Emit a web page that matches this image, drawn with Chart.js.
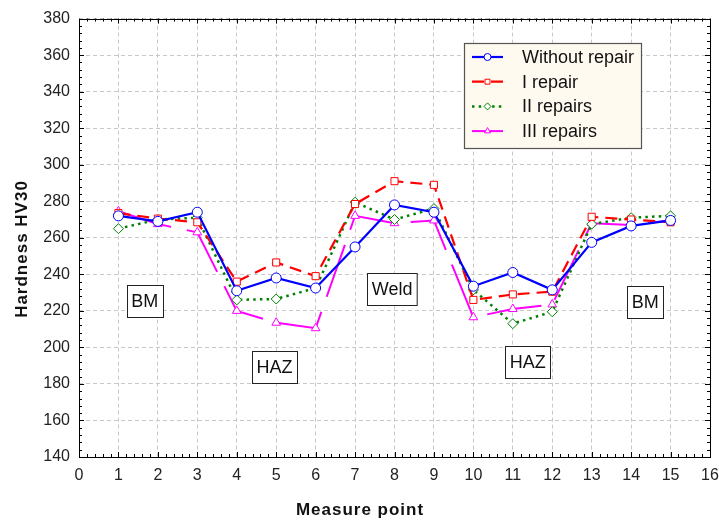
<!DOCTYPE html>
<html lang="en">
<head>
  <meta charset="UTF-8" />
  <title>Hardness HV30</title>
  <script src="https://cdn.jsdelivr.net/npm/chart.js"></script>
  <style>
    body { margin: 0; background: #ffffff; }
    canvas { display: block; }
  </style>
</head>
<body>
  <canvas id="grafico" width="719" height="524"></canvas>

  <script>
    // datos
    const measurePoints = [1, 2, 3, 4, 5, 6, 7, 8, 9, 10, 11, 12, 13, 14, 15];
    const withoutRepair = [272, 269, 274, 231, 238, 232.5, 255, 278, 274, 233.5, 241, 231.5, 257.5, 266.5, 269.5];
    const repair1 = [273.5, 270.5, 268.5, 236, 246.5, 239, 278.5, 291, 289, 226, 229, 230.5, 271.5, 270, 268.5];
    const repair2 = [265, 270, 271, 226, 226.5, 232.5, 279.5, 270, 276, 231.5, 213, 219.5, 267.5, 271, 272];
    const repair3 = [274.5, 267.5, 263, 220, 213.5, 210.5, 272, 268, 269.5, 216.5, 221, 223.5, 268, 267, 269.5];
    const seriesNames = ['Without repair', 'I repair', 'II repairs', 'III repairs'];

    const xTicks = [0, 1, 2, 3, 4, 5, 6, 7, 8, 9, 10, 11, 12, 13, 14, 15, 16];
    const yTicks = [140, 160, 180, 200, 220, 240, 260, 280, 300, 320, 340, 360, 380];

    // etiquetas de zona (en coordenadas de datos)
    const zoneLabels = ['BM', 'HAZ', 'Weld', 'HAZ', 'BM'];
    const zoneX = [1.67, 4.96, 7.94, 11.38, 14.36];
    const zoneY = [225.3, 189.3, 232.1, 191.8, 224.8];

    const FONT = 'Arial, "Liberation Sans", sans-serif';
    Chart.defaults.font.family = FONT;

    const toXY = arr => measurePoints.map((p, i) => ({ x: p, y: arr[i] }));

    // marco, ticks menores, titulos, leyenda y cajas de zona
    const decoraciones = {
      id: 'decoraciones',
      afterDraw(chart) {
        const ctx = chart.ctx;
        const a = chart.chartArea;
        const xs = chart.scales.x, ys = chart.scales.y;
        ctx.save();

        // marco
        ctx.strokeStyle = '#000';
        ctx.lineWidth = 1;
        ctx.setLineDash([]);
        ctx.strokeRect(Math.round(a.left) + 0.5, Math.round(a.top) + 0.5,
          Math.round(a.right - a.left), Math.round(a.bottom - a.top));

        // ticks hacia adentro
        ctx.beginPath();
        for (let i = 0; i <= 80; i++) {
          const v = i * 0.2;
          const len = i % 5 === 0 ? 5 : 3;
          const px = Math.round(xs.getPixelForValue(v)) + 0.5;
          ctx.moveTo(px, a.bottom); ctx.lineTo(px, a.bottom - len);
          ctx.moveTo(px, a.top); ctx.lineTo(px, a.top + len);
        }
        for (let i = 0; i <= 60; i++) {
          const v = 140 + i * 4;
          const len = i % 5 === 0 ? 5 : 3;
          const py = Math.round(ys.getPixelForValue(v)) + 0.5;
          ctx.moveTo(a.left, py); ctx.lineTo(a.left + len, py);
          ctx.moveTo(a.right, py); ctx.lineTo(a.right - len, py);
        }
        ctx.stroke();

        // titulos de ejes
        ctx.fillStyle = '#111';
        ctx.font = 'bold 17px ' + FONT;
        ctx.letterSpacing = '1px';
        ctx.textAlign = 'center';
        ctx.textBaseline = 'middle';
        ctx.fillText('Measure point', 360, 510);
        ctx.save();
        ctx.translate(22, 249);
        ctx.rotate(-Math.PI / 2);
        ctx.fillText('Hardness HV30', 0, 0);
        ctx.restore();
        ctx.letterSpacing = '0px';

        // cajas de zona
        ctx.font = '18px ' + FONT;
        zoneLabels.forEach((txt, i) => {
          const cx = xs.getPixelForValue(zoneX[i]);
          const cy = ys.getPixelForValue(zoneY[i]);
          const w = ctx.measureText(txt).width + 9;
          const h = 32;
          const x0 = Math.round(cx - w / 2) + 0.5, y0 = Math.round(cy - h / 2) + 0.5;
          ctx.fillStyle = '#fff';
          ctx.fillRect(x0, y0, w, h);
          ctx.strokeStyle = '#222';
          ctx.strokeRect(x0, y0, w, h);
          ctx.fillStyle = '#111';
          ctx.fillText(txt, cx, cy + 1);
        });

        // leyenda
        const lx = 464.5, ly = 43.5, lw = 177, lh = 105;
        ctx.fillStyle = '#fffaf0';
        ctx.fillRect(lx, ly, lw, lh);
        ctx.strokeStyle = '#555';
        ctx.lineWidth = 1.2;
        ctx.strokeRect(lx, ly, lw, lh);
        ctx.textAlign = 'left';
        chart.data.datasets.forEach((ds, i) => {
          const y = 57 + i * 24.7;
          ctx.strokeStyle = ds.borderColor;
          ctx.lineWidth = ds.borderWidth;
          ctx.setLineDash(ds.borderDash || []);
          ctx.beginPath();
          ctx.moveTo(472, y); ctx.lineTo(503, y);
          ctx.stroke();
          ctx.setLineDash([]);
          ctx.lineWidth = 1;
          ctx.fillStyle = '#fff';
          Chart.helpers.drawPoint(ctx, { pointStyle: ds.pointStyle, radius: 3.5, borderWidth: 1, rotation: 0 }, 487.5, y);
          ctx.fillStyle = '#111';
          ctx.fillText(ds.label, 522, y + 1);
        });

        ctx.restore();
      }
    };

    const serie = (label, arr, color, style, dash, width) => ({
      label,
      data: toXY(arr),
      borderColor: color,
      borderWidth: width,
      borderDash: dash,
      backgroundColor: '#ffffff',
      pointStyle: style,
      pointRadius: 5,
      pointBorderWidth: 1,
      pointBackgroundColor: '#ffffff',
      pointBorderColor: color,
      tension: 0,
      fill: false
    });

    new Chart(document.getElementById('grafico'), {
      type: 'line',
      data: {
        datasets: [
          serie(seriesNames[0], withoutRepair, '#0000ff', 'circle', [], 2.2),
          serie(seriesNames[1], repair1, '#ff0000', 'rect', [12, 7], 2.2),
          serie(seriesNames[2], repair2, '#008000', 'rectRot', [2.5, 4.2], 2.5),
          serie(seriesNames[3], repair3, '#ff00ff', 'triangle', [55, 16], 2)
        ]
      },
      options: {
        responsive: false,
        animation: false,
        layout: { padding: { top: 14, right: 0, left: 0, bottom: 0 } },
        plugins: {
          legend: { display: false },
          tooltip: { enabled: false }
        },
        scales: {
          x: {
            type: 'linear',
            min: 0,
            max: 16,
            afterBuildTicks: s => { s.ticks = xTicks.map(v => ({ value: v })); },
            afterFit: s => { s.height = 67; s.paddingLeft = 0; s.paddingRight = 9; },
            ticks: { color: '#222', font: { size: 16 }, padding: 9, maxRotation: 0 },
            grid: { color: '#c8c8c8', drawTicks: false, lineWidth: 1 },
            border: { display: false, dash: [4, 3] }
          },
          y: {
            min: 140,
            max: 380,
            afterBuildTicks: s => { s.ticks = yTicks.map(v => ({ value: v })); },
            afterFit: s => { s.width = 79; },
            ticks: { color: '#222', font: { size: 16 }, padding: 9 },
            grid: { color: '#c8c8c8', drawTicks: false, lineWidth: 1 },
            border: { display: false, dash: [4, 3] }
          }
        }
      },
      plugins: [decoraciones]
    });
  </script>
</body>
</html>
